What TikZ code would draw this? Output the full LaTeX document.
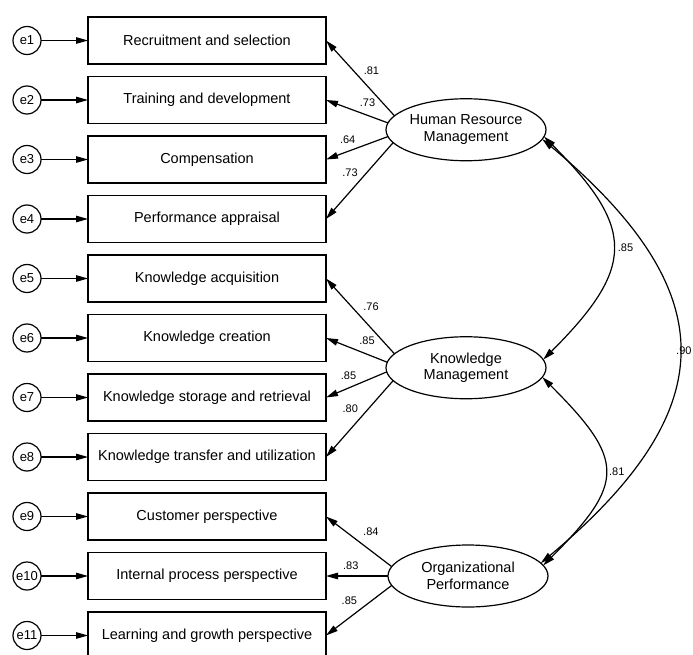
\documentclass[tikz,border=0pt]{standalone}
\usepackage{fontspec}
\setmainfont{Liberation Sans}
\usepackage{tikz}
\usetikzlibrary{shapes,positioning,calc,arrows.meta}

\begin{document}
\begin{tikzpicture}[x=1pt, y=1pt, node distance=12.5pt, line width=1.2pt,
        obs/.style={draw, rectangle, minimum width=238pt, minimum height=47pt, inner sep=2pt, outer sep=0pt, font=\fontsize{14.5}{16.5}\selectfont},
        err/.style={draw, circle, minimum size=28pt, inner sep=0pt, outer sep=0pt, font=\fontsize{13}{15}\selectfont},
        latent/.style={draw, ellipse, minimum width=160pt, minimum height=62pt, inner sep=0pt, outer sep=0pt, align=center, font=\fontsize{14.5}{16.5}\selectfont},
        lbl/.style={inner sep=1pt, font=\fontsize{11}{13}\selectfont},
        >={Triangle[length=12pt, width=6.5pt]}
    ]
        \useasboundingbox (0,0) rectangle (693,-655);

        % indicators
        \node [obs] (b1) at (207,-40.5) {Recruitment and selection};
        \node [obs, below=of b1] (b2) {Training and development};
        \node [obs, below=of b2] (b3) {Compensation};
        \node [obs, below=of b3] (b4) {Performance appraisal};
        \node [obs, below=of b4] (b5) {Knowledge acquisition};
        \node [obs, below=of b5] (b6) {Knowledge creation};
        \node [obs, below=of b6] (b7) {Knowledge storage and retrieval};
        \node [obs, below=of b7] (b8) {Knowledge transfer and utilization};
        \node [obs, below=of b8] (b9) {Customer perspective};
        \node [obs, below=of b9] (b10) {Internal process perspective};
        \node [obs, below=of b10] (b11) {Learning and growth perspective};

        % errors
        \node [err, left=47pt of b1] (e1) {e1};
        \node [err, left=47pt of b2] (e2) {e2};
        \node [err, left=47pt of b3] (e3) {e3};
        \node [err, left=47pt of b4] (e4) {e4};
        \node [err, left=47pt of b5] (e5) {e5};
        \node [err, left=47pt of b6] (e6) {e6};
        \node [err, left=47pt of b7] (e7) {e7};
        \node [err, left=47pt of b8] (e8) {e8};
        \node [err, left=47pt of b9] (e9) {e9};
        \node [err, left=47pt of b10] (e10) {e10};
        \node [err, left=47pt of b11] (e11) {e11};

        \draw [->] (e1) -- (b1);
        \draw [->] (e2) -- (b2);
        \draw [->] (e3) -- (b3);
        \draw [->] (e4) -- (b4);
        \draw [->] (e5) -- (b5);
        \draw [->] (e6) -- (b6);
        \draw [->] (e7) -- (b7);
        \draw [->] (e8) -- (b8);
        \draw [->] (e9) -- (b9);
        \draw [->] (e10) -- (b10);
        \draw [->] (e11) -- (b11);

        % latent variables
        \coordinate (hmid) at ($(b2.east)!0.5!(b3.east)$);
        \coordinate (kmid) at ($(b6.east)!0.5!(b7.east)$);
        \node [latent, right=60pt of hmid] (hrm) {Human Resource\\Management};
        \node [latent, right=60pt of kmid] (km) {Knowledge\\Management};
        \node [latent, right=62pt of b10.east] (op) {Organizational\\Performance};

        % loadings
        \draw [->] (hrm.169) -- (b1.east) node [lbl, pos=0.6, xshift=18pt] {.81};
        \draw [->] (hrm.175) -- (b2.east) node [lbl, pos=0.33, yshift=13pt] {.73};
        \draw [->] (hrm.185) -- (b3.east) node [lbl, pos=0.65, yshift=12pt] {.64};
        \draw [->] (hrm.190) -- (b4.east) node [lbl, pos=0.39, xshift=-17pt] {.73};

        \draw [->] (km.169) -- (b5.east) node [lbl, pos=0.62, xshift=19pt] {.76};
        \draw [->] (km.176) -- (b6.east) node [lbl, pos=0.33, yshift=14pt] {.85};
        \draw [->] (km.183) -- (b7.east) node [lbl, pos=0.63, yshift=12pt] {.85};
        \draw [->] (km.190) -- (b8.east) node [lbl, pos=0.37, xshift=-18pt] {.80};

        \draw [->] (op.173) -- (b9.east) node [lbl, pos=0.5, xshift=12pt, yshift=10pt] {.84};
        \draw [->] (op.180) -- (b10.east) node [lbl, pos=0.6, yshift=10pt] {.83};
        \draw [->] (op.187) -- (b11.east) node [lbl, pos=0.31, xshift=-22pt] {.85};

        % covariances
        \draw [<->] (hrm.-5) .. controls +(-45:130) and +(45:130) .. (km.6) node [lbl, pos=0.5, xshift=13pt] {.85};
        \draw [<->] (km.-7) .. controls +(-45:117) and +(45:117) .. (op.8) node [lbl, pos=0.5, xshift=12pt] {.81};
        \draw [<->] (hrm.-7) .. controls +(-40:239) and +(40:239) .. (op.10) node [lbl, pos=0.5, xshift=5pt] {.90};
    \end{tikzpicture}
\end{document}
